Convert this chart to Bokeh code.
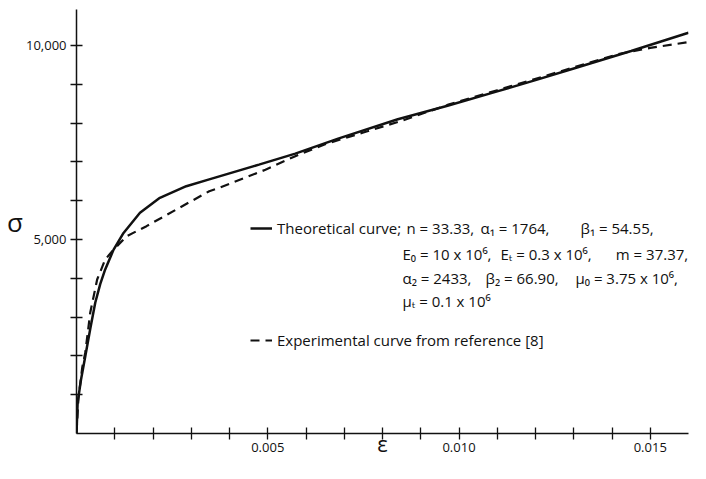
from bokeh.plotting import figure
from bokeh.models import FixedTicker, Label, Legend, LegendItem, Range1d
from bokeh.embed import file_html
from bokeh.resources import INLINE

# Theoretical curve (solid)
eps_theory = [0, 0.00003, 0.00012, 0.00023, 0.00036, 0.00049, 0.00062, 0.00075, 0.00097,
              0.00123, 0.00166, 0.00218, 0.00287, 0.00347, 0.00477, 0.00572, 0.00684,
              0.0084, 0.0097, 0.011, 0.012, 0.013, 0.0145, 0.0160]
sigma_theory = [0, 800, 1400, 1990, 2700, 3370, 3850, 4230, 4740,
                5170, 5690, 6075, 6375, 6550, 6930, 7215, 7600,
                8100, 8450, 8820, 9110, 9410, 9860, 10330]

# Experimental curve from reference [8] (dashed)
eps_exp = [0, 0.00005, 0.00015, 0.00023, 0.00036, 0.00054, 0.00075, 0.00097, 0.00131,
           0.00183, 0.00261, 0.00347, 0.00373, 0.00494, 0.00572, 0.0065, 0.0075,
           0.0085, 0.0097, 0.011, 0.0125, 0.0142, 0.015, 0.016]
sigma_exp = [0, 900, 1700, 2090, 3120, 3970, 4485, 4740, 5085,
             5345, 5775, 6245, 6330, 6800, 7150, 7460, 7760,
             8060, 8470, 8850, 9290, 9790, 9940, 10090]

x_ticks = [0.001, 0.002, 0.003, 0.004, 0.005, 0.006, 0.007, 0.008,
           0.009, 0.01, 0.011, 0.012, 0.013, 0.014, 0.015]
x_tick_labels = {0.005: "0.005", 0.01: "0.010", 0.015: "0.015"}
y_ticks = [1000, 2000, 3000, 4000, 5000, 6000, 7000, 8000, 9000, 10000]
y_tick_labels = {5000: "5,000", 10000: "10,000"}

legend_theory = "Theoretical curve;"
legend_exp = "Experimental curve from reference [8]"
param_rows = [
    ["n = 33.33,", "α\u2081 = 1764,", "β\u2081 = 54.55,"],
    ["E\u2080 = 10 x 10\u2076,", "E\u209c = 0.3 x 10\u2076,", "m = 37.37,"],
    ["α\u2082 = 2433,", "β\u2082 = 66.90,", "μ\u2080 = 3.75 x 10\u2076,"],
    ["μ\u209c = 0.1 x 10\u2076"],
]

FONT = "Open Sans"
INK = "#111111"

p = figure(width=690, height=463, output_backend="svg", toolbar_location=None,
           x_range=Range1d(0, 0.016), y_range=Range1d(0, 10930),
           min_border_left=76, min_border_right=2, min_border_top=9, min_border_bottom=30)
p.outline_line_color = None
p.xgrid.visible = False
p.ygrid.visible = False
p.background_fill_color = "white"
p.border_fill_color = "white"

for ax in (p.xaxis[0], p.yaxis[0]):
    ax.axis_line_color = INK
    ax.axis_line_width = 1.5
    ax.major_tick_line_color = INK
    ax.major_tick_line_width = 1.3
    ax.major_tick_in = 6
    ax.major_tick_out = 6
    ax.minor_tick_line_color = None
    ax.major_label_text_font = FONT
    ax.major_label_text_font_size = "13px"
    ax.major_label_text_color = INK
    ax.major_label_standoff = 4

xax = p.xaxis[0]
xax.ticker = FixedTicker(ticks=x_ticks)
xax.major_label_overrides = {t: x_tick_labels.get(t, "") for t in x_ticks}
xax.major_label_standoff = 3
xax.axis_label = "ε"
xax.axis_label_text_font = FONT
xax.axis_label_text_font_style = "normal"
xax.axis_label_text_font_size = "22px"
xax.axis_label_text_color = INK
xax.axis_label_standoff = -27

yax = p.yaxis[0]
yax.ticker = FixedTicker(ticks=y_ticks)
yax.major_label_overrides = {t: y_tick_labels.get(t, "") for t in y_ticks}
yax.axis_label = "σ"
yax.axis_label_text_font = FONT
yax.axis_label_text_font_style = "normal"
yax.axis_label_text_font_size = "26px"
yax.axis_label_text_color = INK
yax.axis_label_standoff = 0
if hasattr(yax, "axis_label_orientation"):
    yax.axis_label_orientation = "horizontal"

r1 = p.line(eps_theory, sigma_theory, line_width=2.5, line_color=INK)
r2 = p.line(eps_exp, sigma_exp, line_width=2.2, line_color=INK, line_dash="9 6")

def make_legend(label, renderer, loc):
    return Legend(items=[LegendItem(label=label, renderers=[renderer])], location=loc,
                  border_line_color=None, background_fill_alpha=0, padding=0, margin=0,
                  spacing=0, label_standoff=5, glyph_width=22, glyph_height=20, label_height=20,
                  label_text_font=FONT, label_text_font_size="15px", label_text_color=INK)

p.add_layout(make_legend(legend_theory, r1, (174, 195)))
p.add_layout(make_legend(legend_exp, r2, (174, 83)))

row_y = [5285, 4615, 3996, 3403]
row_item_x = [
    [0.008627, 0.010562, 0.013176],
    [0.008523, 0.011085, 0.014100],
    [0.008523, 0.010693, 0.013046],
    [0.008523],
]
for items, xs, yy in zip(param_rows, row_item_x, row_y):
    for txt, xx in zip(items, xs):
        p.add_layout(Label(x=xx, y=yy, text=txt, text_font=FONT, text_font_size="15px",
                           text_color=INK, text_baseline="middle", text_align="left"))

open("out.html", "w").write(file_html(p, INLINE))
